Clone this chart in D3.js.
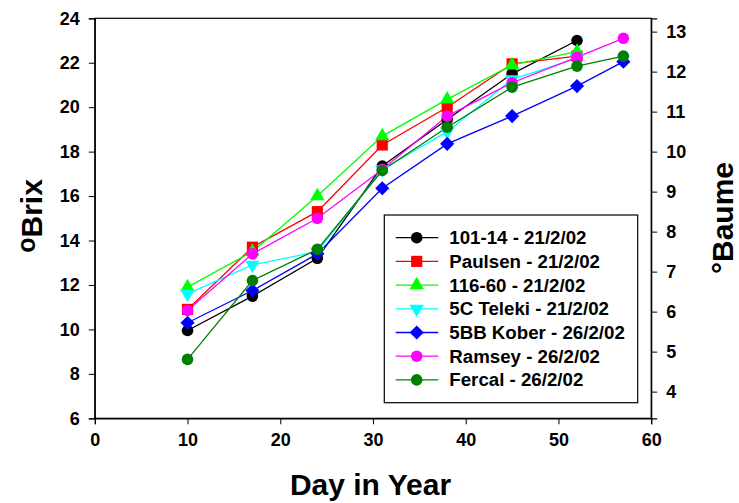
<!DOCTYPE html>
<html><head><meta charset="utf-8">
<script src="https://cdn.jsdelivr.net/npm/d3@7"></script>
<style>body{margin:0;background:#fff}svg{display:block}text{font-family:"Liberation Sans",Arial,sans-serif;font-weight:bold}</style>
</head><body><svg id="c" width="739" height="503"></svg>
<script>
const days = [10, 17, 24, 31, 38, 45, 52, 57];
const names = ["101-14 - 21/2/02","Paulsen - 21/2/02","116-60 - 21/2/02","5C Teleki - 21/2/02","5BB Kober - 26/2/02","Ramsey - 26/2/02","Fercal - 26/2/02"];
const s10114  = [9.95, 11.5, 13.2, 17.35, 19.45, 21.5, 23.0];
const paulsen = [10.9, 13.7, 15.3, 18.3, 20.0, 21.95, 22.3];
const s11660  = [11.9, 13.5, 16.0, 18.7, 20.35, 21.9, 22.5];
const teleki  = [11.6, 12.9, 13.5, 17.2, 18.9, 21.25, 22.2];
const kober   = [10.3, 11.75, 13.4, 16.35, 18.35, 19.6, 20.95, 22.05];
const ramsey  = [10.85, 13.4, 15.0, 17.2, 19.6, 21.1, 22.25, 23.1];
const fercal  = [8.65, 12.2, 13.6, 17.15, 19.1, 20.9, 21.85, 22.3];
const colors = ["#000000","#ff0000","#00ff00","#00ffff","#0000ff","#ff00ff","#008000"];
const shapes = ["circle","square","triUp","triDown","diamond","circle","circle"];
const xTicks = [0,10,20,30,40,50,60];
const yTicks = [6,8,10,12,14,16,18,20,22,24];
const bTicks = [4,5,6,7,8,9,10,11,12,13];
const brixPerBaume = 1.8;

const seriesVals = [s10114, paulsen, s11660, teleki, kober, ramsey, fercal];
const series = names.map((n,i)=>({name:n, color:colors[i], shape:shapes[i],
  pts: seriesVals[i].map((v,j)=>({x:days[j], y:v}))}));

const svg = d3.select("#c");
const L=94.8, R=651.2, T=18.3, B=418.3;
const x = d3.scaleLinear().domain([0,60]).range([L,R]);
const y = d3.scaleLinear().domain([6,24]).range([B,T]);
const yb = d3.scaleLinear().domain([6/brixPerBaume, 24/brixPerBaume]).range([B,T]);

function sym(g, shape, color){
  let p;
  if(shape==="circle") p = g.append("circle").attr("r",5.8);
  else if(shape==="square") p = g.append("path").attr("d", d3.symbol(d3.symbolSquare, 125)());
  else if(shape==="triUp") p = g.append("path").attr("d", d3.symbol(d3.symbolTriangle, 90)());
  else if(shape==="triDown") p = g.append("path").attr("d", d3.symbol(d3.symbolTriangle, 90)()).attr("transform","rotate(180)");
  else if(shape==="diamond") p = g.append("path").attr("d", d3.symbol(d3.symbolSquare, 100)()).attr("transform","rotate(45)");
  p.attr("fill", color).attr("stroke","none");
}

// frame
svg.append("rect").attr("x",L).attr("y",T).attr("width",R-L).attr("height",B-T)
  .attr("fill","none").attr("stroke","#000").attr("stroke-width",1.2);

const ax = svg.append("g").attr("transform",`translate(0,${B})`)
  .call(d3.axisBottom(x).tickValues(xTicks).tickSize(6).tickPadding(9).tickFormat(d3.format("d")));
const ay = svg.append("g").attr("transform",`translate(${L},0)`)
  .call(d3.axisLeft(y).tickValues(yTicks).tickSize(6).tickPadding(9).tickFormat(d3.format("d")));
const ar = svg.append("g").attr("transform",`translate(${R},0)`)
  .call(d3.axisRight(yb).tickValues(bTicks).tickSize(6).tickPadding(9).tickFormat(d3.format("d")));
[ax,ay,ar].forEach(a=>{
  a.select(".domain").attr("stroke","#000").attr("stroke-width",1.2);
  a.selectAll(".tick line").attr("stroke","#000").attr("stroke-width",1);
  a.selectAll(".tick text").attr("fill","#000").style("font-size","18px").style("font-family","Liberation Sans, Arial, sans-serif").style("font-weight","bold");
});

const line = d3.line().x(d=>x(d.x)).y(d=>y(d.y));
const gS = svg.append("g");
series.forEach(s=>{
  gS.append("path").attr("d", line(s.pts)).attr("fill","none").attr("stroke",s.color).attr("stroke-width",1.3);
});
series.forEach(s=>{
  s.pts.forEach(p=>{
    const g = gS.append("g").attr("transform",`translate(${x(p.x)},${y(p.y)})`);
    sym(g, s.shape, s.color);
  });
});

// legend
const lg = svg.append("g");
lg.append("rect").attr("x",384.3).attr("y",215).attr("width",253.4).attr("height",187.7)
  .attr("fill","#fff").attr("stroke","#000").attr("stroke-width",1.2);
series.forEach((s,i)=>{
  const cy = 237.7 + i*23.7;
  lg.append("line").attr("x1",395.7).attr("x2",438.3).attr("y1",cy).attr("y2",cy).attr("stroke",s.color).attr("stroke-width",1.3);
  const g = lg.append("g").attr("transform",`translate(416.7,${cy})`);
  sym(g, s.shape, s.color);
  lg.append("text").attr("x",449.3).attr("y",cy+6.5).style("font-size","18.7px").attr("fill","#000").text(s.name);
});

// axis titles
svg.append("text").attr("x",370.5).attr("y",495).attr("text-anchor","middle").style("font-size","30px").text("Day in Year");
const lt = svg.append("text").attr("transform","translate(42,216) rotate(-90)").attr("text-anchor","middle").style("font-size","30px");
lt.append("tspan").attr("baseline-shift","30%").style("font-size","25px").text("o");
lt.append("tspan").text("Brix");
const rt = svg.append("text").attr("transform","translate(733,218) rotate(-90)").attr("text-anchor","middle").style("font-size","30px");
rt.append("tspan").text("°Baume");
</script></body></html>
